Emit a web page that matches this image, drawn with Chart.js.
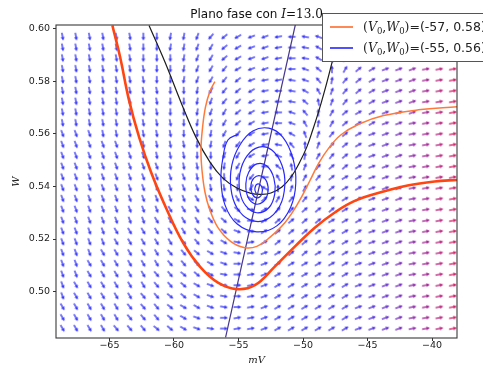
<!DOCTYPE html>
<html><head><meta charset="utf-8">
<script src="https://cdn.jsdelivr.net/npm/chart.js@4.4.1/dist/chart.umd.min.js"></script>
<style>html,body{margin:0;padding:0;background:#fff;}#wrap{width:483px;height:366px;}</style>
</head><body><div id="wrap"><canvas id="c" width="483" height="366"></canvas></div>
<script>
// ---------- data ----------
const currentI = 13.0;
const xTicks = [-65, -60, -55, -50, -45, -40];
const yTicks = [0.50, 0.52, 0.54, 0.56, 0.58, 0.60];
const xRange = [-69.14, -38.07];
const yRange = [0.4823, 0.6015];

// quiver grid (column V values, row W values)
const quiverV = [-68.63,-67.59,-66.54,-65.50,-64.46,-63.41,-62.37,-61.33,-60.28,-59.24,-58.20,-57.15,-56.11,-55.07,-54.02,-52.98,-51.94,-50.89,-49.85,-48.81,-47.76,-46.72,-45.68,-44.63,-43.59,-42.55,-41.50,-40.46,-39.42,-38.37];
const quiverW = [0.5970,0.5929,0.5888,0.5847,0.5805,0.5764,0.5723,0.5682,0.5641,0.5600,0.5559,0.5517,0.5476,0.5435,0.5394,0.5353,0.5312,0.5270,0.5229,0.5188,0.5147,0.5106,0.5065,0.5024,0.4982,0.4941,0.4900,0.4859];
// arrow direction codes, one char per arrow (A=-90deg ... J=0 ... S=90 ... b=180 ... k=270, screen degrees)
const quiverDir = [
"RRRRRRSSTTUWXYZZabcdgBEGHHHIII",
"RRRRRRSSTTUVXYZZabceiCFGHHHIII",
"RRRRRRSSSTUVXYZZabcejDFGHHHIII",
"RRRRRRRSSTUVWYZZabdfkDFGHHHIII",
"RRRRRRRSSTUVWXZaacdgBEFGHHHIII",
"RRRRRRRRSSTVWXYabcehCEFGHHHIII",
"RRRRRRRRSSTUWXYabcfjCEGGHHHIII",
"RRRRRRRRSSTUVXYabdgkDFGGHHHIII",
"RRRRRRRRRSTUVXYabdhBDFGGHHIIII",
"QQQRRRRRRSSTVWYaceiCEFGHHHIIII",
"QQQQQRRRRRSTUWYacgkCEFGHHHIIII",
"QQQQQQQRRRSSUVYadhBDEFGHHHIIII",
"QQQQQQQQRRRSTVXbfjCEFFGHHHIIII",
"QQQQQQQQQQRRSUWbhBDEFGGHHHIIII",
"QQQQQQQQQQQRRSVekCDEFGGHHHIIII",
"QQQQQQQQQQPPPPMFDEEFFGGHHHIIII",
"QQQQQQQQPPPPONKGEEFFFGGHHHIIII",
"QQQQQQQPPPPONMJGFFFFGGGHHHIIII",
"QQQQPPPPPPOONLJGFFFFGGGHHHIIII",
"QQQQPPPPPOONMKIGFFFFGGGHHHIIII",
"QQQPPPPPOONMLKIHGFFGGGHHHHIIII",
"QQPPPPPPOONMLJIHGGGGGGHHHHIIII",
"QQPPPPPOONNMKJIHGGGGGGHHHHIIII",
"QPPPPPPOONMLKJIHGGGGGGHHHHIIII",
"QPPPPPOONNMLKJIHGGGGGGHHHHIIII",
"PPPPPOOONMMLKJIHGGGGGGHHHHIIII",
"PPPPPOOONMLKJIIHGGGGGGHHHHIIII",
"PPPPOOONNMLKJIIHGGGGGGHHHHIIII"
];
// arrow colour (0 = blue, 1 = red) per column
const quiverHeat = [0,0,0,0,0,0,0,0,0,0,0,0,0,0,0,0,0,0,0.02,0.04,0.06,0.08,0.12,0.18,0.26,0.36,0.48,0.6,0.72,0.85];

// V-nullcline (black)
const vNullV = [-61.93,-60.69,-59.46,-58.30,-57.21,-56.21,-55.12,-54.04,-53.27,-52.49,-51.64,-50.87,-50.25,-49.71,-49.25,-48.78,-48.32,-47.85,-47.47,-47.16];
const vNullW = [0.6013,0.5873,0.5721,0.5588,0.5493,0.5432,0.5394,0.5374,0.5370,0.5375,0.5398,0.5440,0.5493,0.5550,0.5615,0.5687,0.5766,0.5854,0.5930,0.6013];
// W-nullcline (dark purple)
const wNullV = [-56.0,-50.6];
const wNullW = [0.4825,0.6015];
// thick red-orange trajectory
const redV = [-64.77,-64.17,-63.48,-62.70,-61.78,-60.62,-59.30,-57.99,-56.59,-55.12,-53.73,-52.19,-50.64,-49.09,-47.54,-46.00,-43.91,-41.90,-39.81,-38.07];
const redW = [0.6013,0.5892,0.5728,0.5588,0.5455,0.5319,0.5186,0.5095,0.5034,0.5009,0.5024,0.5095,0.5171,0.5243,0.5301,0.5345,0.5379,0.5404,0.5419,0.5425];
// trajectory A, from (-57, 0.58)
const initA = [-57, 0.58];
const trajAV = [-56.83,-57.21,-57.56,-57.79,-57.91,-57.83,-57.60,-57.25,-56.59,-55.59,-54.51,-53.58,-52.65,-51.41,-50.33,-49.48,-48.78,-48.01,-47.08,-45.69,-43.76,-41.05,-38.07];
const trajAW = [0.5799,0.5763,0.5702,0.5622,0.5539,0.5463,0.5379,0.5315,0.5243,0.5190,0.5167,0.5172,0.5203,0.5262,0.5341,0.5421,0.5489,0.5546,0.5596,0.5637,0.5670,0.5692,0.5704];
// trajectory B, from (-55, 0.56), spiral
const initB = [-55, 0.56];
const trajBV = [-55.0,-55.82,-56.21,-56.36,-56.05,-55.12,-53.58,-52.03,-50.95,-50.56,-50.79,-51.57,-52.65,-53.89,-54.89,-55.51,-55.59,-55.12,-54.12,-52.88,-51.80,-51.41,-51.64,-52.42,-53.42,-54.35,-54.89,-54.89,-54.43,-53.58,-52.65,-52.19,-52.26,-52.80,-53.58,-54.20,-54.43,-54.27,-53.73,-53.11,-52.73,-52.80,-53.27,-53.81,-54.04,-53.89,-53.50,-53.19,-53.19,-53.50,-53.73,-53.65,-53.58];
const trajBW = [0.5600,0.5577,0.5508,0.5425,0.5330,0.5258,0.5227,0.5250,0.5322,0.5413,0.5508,0.5588,0.5622,0.5611,0.5558,0.5482,0.5394,0.5319,0.5273,0.5273,0.5326,0.5406,0.5482,0.5539,0.5550,0.5516,0.5451,0.5379,0.5326,0.5300,0.5319,0.5372,0.5432,0.5478,0.5486,0.5455,0.5410,0.5360,0.5334,0.5341,0.5375,0.5417,0.5440,0.5432,0.5402,0.5368,0.5357,0.5372,0.5398,0.5410,0.5394,0.5375,0.5375];

// ---------- build ----------
const ANG = "ABCDEFGHIJKLMNOPQRSTUVWXYZabcdefghijk";
const codeToDeg = ch => ANG.indexOf(ch) * 10 - 90;
const zip = (xs, ys) => xs.map((x, i) => ({x: x, y: ys[i]}));

function heatColor(t){
  const b=[45,45,250], r=[235,20,70];
  const m=b.map((v,i)=>Math.round(v+(r[i]-v)*t));
  return 'rgba('+m[0]+','+m[1]+','+m[2]+',0.85)';
}
function makeArrow(color){
  const c=document.createElement('canvas'); c.width=16; c.height=16;
  const g=c.getContext('2d');
  g.fillStyle=color; g.strokeStyle=color; g.lineWidth=1.7; g.lineCap='round';
  g.beginPath(); g.moveTo(4.6,8); g.lineTo(9.4,8); g.stroke();
  g.beginPath(); g.moveTo(8.4,6.1); g.lineTo(11.8,8); g.lineTo(8.4,9.9); g.closePath(); g.fill();
  return c;
}
const arrowImgs = quiverHeat.map(t => makeArrow(heatColor(t)));
const quiverPts = [];
quiverW.forEach((w,k) => {
  const row = quiverDir[k];
  quiverV.forEach((v,i) => quiverPts.push({x:v, y:w, r:codeToDeg(row[i]), c:i}));
});

const SANS = "'DejaVu Sans', sans-serif", SERIF = "'DejaVu Serif', serif";
function drawRich(ctx, parts, x, y, align){
  let w=0;
  parts.forEach(p=>{ctx.font=p.f; w+=ctx.measureText(p.t).width;});
  let cx = align==='center' ? x-w/2 : x;
  ctx.textBaseline='alphabetic'; ctx.textAlign='left';
  parts.forEach(p=>{ctx.font=p.f; ctx.fillText(p.t, cx, y+(p.dy||0)); cx+=ctx.measureText(p.t).width;});
}
const legendRows = [
  {color:'#ff6a2c', v:initA},
  {color:'#2424ff', v:initB}
];

const decor = {
  id:'decor',
  afterDraw(chart){
    const ctx=chart.ctx, a=chart.chartArea;
    ctx.save();
    ctx.strokeStyle='#3a3a3a'; ctx.lineWidth=1.1;
    ctx.strokeRect(a.left, a.top, a.right-a.left, a.bottom-a.top);
    ctx.fillStyle='#111';
    drawRich(ctx,[
      {t:'Plano fase con ', f:'12px '+SANS},
      {t:'I', f:'italic 12px '+SERIF},
      {t:'=13.0', f:'12px '+SERIF}
    ], (a.left+a.right)/2, 18, 'center');
    ctx.fillStyle='#222';
    drawRich(ctx,[{t:'mV', f:'italic 10px '+SERIF}], (a.left+a.right)/2, 363, 'center');
    ctx.save(); ctx.translate(19, (a.top+a.bottom)/2); ctx.rotate(-Math.PI/2);
    drawRich(ctx,[{t:'W', f:'italic 10px '+SERIF}], 0, 0, 'center');
    ctx.restore();
    // legend box
    ctx.fillStyle='#fff'; ctx.fillRect(322,13,175,48);
    ctx.strokeStyle='#555'; ctx.lineWidth=1; ctx.strokeRect(322.5,13.5,175,48);
    legendRows.forEach((row,n)=>{
      const y = 27 + n*21;
      ctx.strokeStyle=row.color; ctx.lineWidth=1.6;
      ctx.beginPath(); ctx.moveTo(330,y); ctx.lineTo(353,y); ctx.stroke();
      ctx.fillStyle='#222';
      drawRich(ctx,[
        {t:'(', f:'12.5px '+SERIF},
        {t:'V', f:'italic 12.5px '+SERIF},
        {t:'0', f:'8.5px '+SERIF, dy:2.5},
        {t:',', f:'12.5px '+SERIF},
        {t:'W', f:'italic 12.5px '+SERIF},
        {t:'0', f:'8.5px '+SERIF, dy:2.5},
        {t:')', f:'12.5px '+SERIF},
        {t:'=('+row.v[0]+', '+row.v[1].toFixed(2)+')', f:'12.5px '+SANS}
      ], 363, y+4, 'left');
    });
    ctx.restore();
  }
};

const lineDs = (xs, ys, color, width, order, tension) => ({
  data: zip(xs, ys), showLine:true, borderColor:color, borderWidth:width,
  pointRadius:0, tension:tension, order:order, fill:false
});

new Chart(document.getElementById('c'), {
  type:'scatter',
  data:{ datasets:[
    { data: quiverPts, order:10,
      pointStyle: ctx => (ctx.raw ? arrowImgs[ctx.raw.c] : 'circle'),
      rotation: ctx => (ctx.raw ? ctx.raw.r : 0),
      pointRadius:3 },
    lineDs(vNullV, vNullW, '#1c1c1c', 1.2, 6, 0.4),
    lineDs(wNullV, wNullW, '#46368c', 1.2, 5, 0),
    lineDs(redV, redW, '#ff4612', 2.6, 4, 0.4),
    lineDs(trajAV, trajAW, '#ff7a3a', 1.5, 3, 0.4),
    lineDs(trajBV, trajBW, '#2828ff', 1.2, 2, 0.4)
  ]},
  options:{
    responsive:false, animation:false, events:[],
    layout:{padding:{left:0, right:26, top:25, bottom:0}},
    plugins:{legend:{display:false}, title:{display:false}, tooltip:{enabled:false}},
    scales:{
      x:{ type:'linear', min:xRange[0], max:xRange[1],
        afterBuildTicks: s => { s.ticks = xTicks.map(v=>({value:v})); },
        afterFit: s => { s.height = 28; },
        ticks:{ callback: v => (v<0 ? '\u2212'+Math.abs(v) : String(v)), color:'#222', padding:-1,
                font:{family:"'DejaVu Sans', sans-serif", size:9.5}, maxRotation:0, autoSkip:false },
        grid:{ drawOnChartArea:false, drawTicks:true, tickLength:3, color:'#333' },
        border:{ display:false }
      },
      y:{ type:'linear', min:yRange[0], max:yRange[1],
        afterBuildTicks: s => { s.ticks = yTicks.map(v=>({value:v})); },
        afterFit: s => { s.width = 56; },
        ticks:{ callback: v => Number(v).toFixed(2), color:'#222', padding:3,
                font:{family:"'DejaVu Sans', sans-serif", size:9.5}, autoSkip:false },
        grid:{ drawOnChartArea:false, drawTicks:true, tickLength:3, color:'#333' },
        border:{ display:false }
      }
    }
  },
  plugins:[decor]
});
</script>
</body></html>
